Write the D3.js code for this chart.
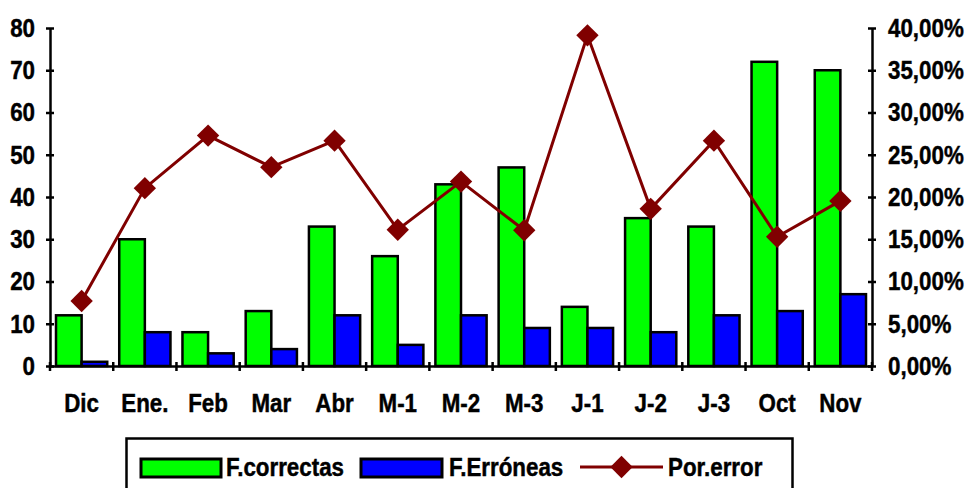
<!DOCTYPE html>
<html>
<head>
<meta charset="utf-8">
<script src="https://cdn.jsdelivr.net/npm/d3@7"></script>
<style>
  html, body { margin: 0; padding: 0; background: #fff; }
  svg { display: block; }
  text { font-family: "Liberation Sans", Arial, sans-serif; font-weight: bold; fill: #000; stroke: #000; stroke-width: 0.45px; }
</style>
</head>
<body>
<svg id="chart" width="970" height="488"></svg>
<script>
// Monthly counts of correct and erroneous entries, with error share
const categories = ["Dic", "Ene.", "Feb", "Mar", "Abr", "M-1", "M-2", "M-3", "J-1", "J-2", "J-3", "Oct", "Nov"];
const correctas = [12, 30, 8, 13, 33, 26, 43, 47, 14, 35, 33, 72, 70];
const erroneas = [1, 8, 3, 4, 12, 5, 12, 9, 9, 8, 12, 13, 17];
const porError = [0.0769, 0.2105, 0.2727, 0.2353, 0.2667, 0.1613, 0.2182, 0.1607, 0.3913, 0.1860, 0.2667, 0.1529, 0.1954];
const leftTicks = [0, 10, 20, 30, 40, 50, 60, 70, 80];
const rightTicks = [0, 0.05, 0.10, 0.15, 0.20, 0.25, 0.30, 0.35, 0.40];
const seriesNames = ["F.correctas", "F.Erróneas", "Por.error"];

const colors = { correctas: "#00ff00", erroneas: "#0000ff", line: "#800000" };
const FONT = 26;   // text size
const SX = 0.86;   // horizontal narrowing of all text

const svg = d3.select("#chart");
const plotL = 50, plotR = 872, plotT = 28, plotB = 366;

const x = d3.scaleBand().domain(categories).range([plotL, plotR]);
const xi = d3.scaleBand().domain(["c", "e"]).range([6, x.bandwidth() - 6]);
const yL = d3.scaleLinear().domain([0, 80]).range([plotB, plotT]);
const yR = d3.scaleLinear().domain([0, 0.4]).range([plotB, plotT]);

const esLocale = d3.formatLocale({ decimal: ",", thousands: ".", grouping: [3], currency: ["", "€"] });
const pct = esLocale.format(".2%");

// Narrow a text selection horizontally around its anchor point
function condense(sel) {
  sel.each(function () {
    const t = d3.select(this);
    const xv = +t.attr("x") || 0;
    t.attr("x", 0).attr("transform", `translate(${xv},0) scale(${SX},1)`);
  });
}

// Bars
const rows = categories.map((c, i) => ({ c, correctas: correctas[i], erroneas: erroneas[i], err: porError[i] }));
const gBars = svg.append("g");
rows.forEach(d => {
  gBars.append("rect")
    .attr("x", x(d.c) + xi("c")).attr("width", xi.bandwidth())
    .attr("y", yL(d.correctas)).attr("height", yL(0) - yL(d.correctas))
    .attr("fill", colors.correctas).attr("stroke", "#000").attr("stroke-width", 2.5);
  gBars.append("rect")
    .attr("x", x(d.c) + xi("e")).attr("width", xi.bandwidth())
    .attr("y", yL(d.erroneas)).attr("height", yL(0) - yL(d.erroneas))
    .attr("fill", colors.erroneas).attr("stroke", "#000").attr("stroke-width", 2.5);
});

// Left axis
const axL = svg.append("g").attr("transform", `translate(${plotL},0)`)
  .call(d3.axisLeft(yL).tickValues(leftTicks).tickSize(4).tickSizeOuter(0).tickPadding(11));
axL.selectAll(".tick line").attr("x1", 4).attr("x2", -4);

// Right axis
const axR = svg.append("g").attr("transform", `translate(${plotR},0)`)
  .call(d3.axisRight(yR).tickValues(rightTicks).tickSize(4).tickSizeOuter(0).tickPadding(12).tickFormat(pct));
axR.selectAll(".tick line").attr("x1", -4).attr("x2", 4);

// Bottom axis: labels centred, ticks at category boundaries
const axB = svg.append("g").attr("transform", `translate(0,${plotB})`)
  .call(d3.axisBottom(x).tickSize(0).tickSizeOuter(0).tickPadding(28));
const bounds = categories.map(c => x(c)).concat([x.range()[1]]);
axB.selectAll(".bound").data(bounds).join("line")
  .attr("x1", d => d).attr("x2", d => d).attr("y1", -4).attr("y2", 5)
  .attr("stroke", "#000").attr("stroke-width", 2.5);

[axL, axR, axB].forEach(a => {
  a.select(".domain").attr("stroke", "#000").attr("stroke-width", 2.5);
  a.selectAll(".tick line").attr("stroke", "#000").attr("stroke-width", 2.5);
  a.selectAll("text").attr("font-size", FONT)
    .style("font-family", '"Liberation Sans", Arial, sans-serif').style("font-weight", "bold")
    .attr("fill", "#000")
    .call(condense);
});

// Error-share line with diamond markers
const cx = d => x(d.c) + x.bandwidth() / 2;
svg.append("path").datum(rows)
  .attr("d", d3.line().x(cx).y(d => yR(d.err)))
  .attr("fill", "none").attr("stroke", colors.line).attr("stroke-width", 3);
const diamond = d3.symbol().type(d3.symbolSquare).size(250);
svg.append("g").selectAll("path").data(rows).join("path")
  .attr("d", diamond)
  .attr("transform", d => `translate(${cx(d)},${yR(d.err)}) rotate(45)`)
  .attr("fill", colors.line);

// Legend
const lg = svg.append("g");
lg.append("rect").attr("x", 126.5).attr("y", 438.5).attr("width", 666).attr("height", 60)
  .attr("fill", "#fff").attr("stroke", "#000").attr("stroke-width", 2.5);
const ly = 467;
const legendText = (xPos, label) => lg.append("text").attr("x", xPos).attr("y", ly).attr("dy", "0.35em")
  .attr("font-size", FONT).text(label).call(condense);
lg.append("rect").attr("x", 141).attr("y", 459).attr("width", 80).attr("height", 18)
  .attr("fill", colors.correctas).attr("stroke", "#000").attr("stroke-width", 3);
legendText(226, seriesNames[0]);
lg.append("rect").attr("x", 361).attr("y", 459).attr("width", 81).attr("height", 18)
  .attr("fill", colors.erroneas).attr("stroke", "#000").attr("stroke-width", 3);
legendText(449, seriesNames[1]);
lg.append("line").attr("x1", 580).attr("x2", 663).attr("y1", ly).attr("y2", ly)
  .attr("stroke", colors.line).attr("stroke-width", 3);
lg.append("path").attr("d", diamond).attr("transform", `translate(621.5,${ly}) rotate(45)`).attr("fill", colors.line);
legendText(668, seriesNames[2]);
</script>
</body>
</html>
